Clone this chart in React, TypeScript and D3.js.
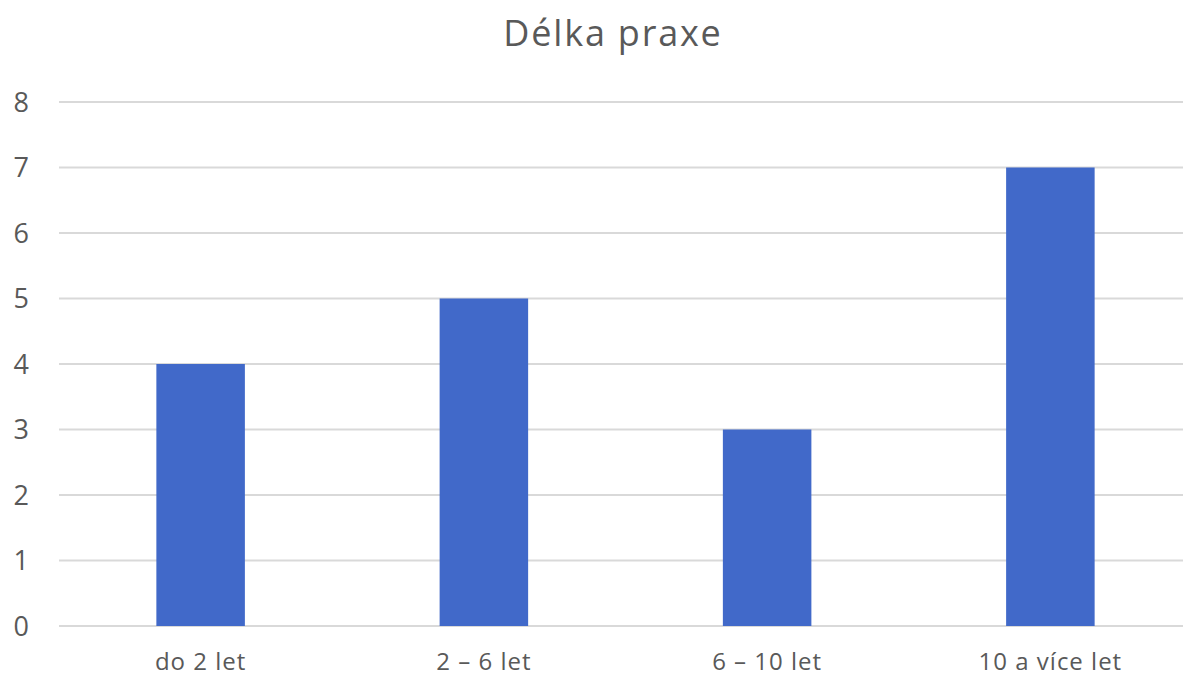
import React from "react";
import * as d3 from "d3";

const categories = ["do 2 let", "2 – 6 let", "6 – 10 let", "10 a více let"];
const values = [4, 5, 3, 7];
const yTicks = [0, 1, 2, 3, 4, 5, 6, 7, 8];
const title = "Délka praxe";

export default function App() {
  const W = 1183, H = 677;
  const x = d3.scaleBand<string>().domain(categories).range([59, 1192]).paddingInner(0.6875).paddingOuter(0.34375);
  const y = d3.scaleLinear().domain([0, 8]).range([626, 102]);
  const font = "'Open Sans', sans-serif";
  return (
    <svg width={W} height={H} style={{ position: "absolute", left: 0, top: 0, background: "#fff" }}>
      <text x={613} y={46} textAnchor="middle" fontFamily={font} fontSize={36} letterSpacing={1.8} fill="#595959">{title}</text>
      {yTicks.map(t => (
        <g key={t}>
          <line x1={59} x2={1192} y1={y(t)} y2={y(t)} stroke="#D9D9D9" strokeWidth={2} />
          <text x={29} y={y(t)} dy="0.36em" textAnchor="end" fontFamily={font} fontSize={27} fill="#595959">{t}</text>
        </g>
      ))}
      {categories.map((c, i) => (
        <g key={c}>
          <rect x={x(c)} y={y(values[i])} width={x.bandwidth()} height={y(0) - y(values[i])} fill="#4169C9" />
          <text x={(x(c) as number) + x.bandwidth() / 2} y={670} textAnchor="middle" fontFamily={font} fontSize={24} letterSpacing={1} fill="#595959">{c}</text>
        </g>
      ))}
    </svg>
  );
}
